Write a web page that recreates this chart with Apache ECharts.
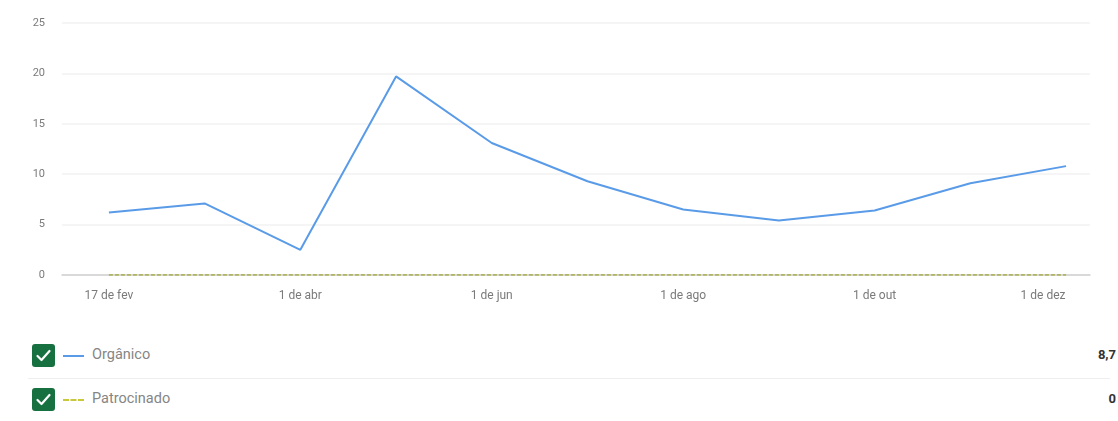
<!DOCTYPE html>
<html>
<head>
<meta charset="utf-8">
<script src="https://cdn.jsdelivr.net/npm/echarts@6/dist/echarts.min.js"></script>
<style>
  body { margin: 0; background: #fff; font-family: Roboto, "Noto Sans", sans-serif; }
  #chart { position: absolute; left: 0; top: 0; width: 1118px; height: 310px; }
  .row { position: absolute; left: 0; width: 1118px; height: 24px; }
  .box { position: absolute; left: 32px; top: 0; width: 23px; height: 23px; border-radius: 3px; background: #17703f; }
  .icon { position: absolute; left: 63px; top: 11px; width: 21px; height: 0; }
  .name { position: absolute; left: 92px; top: 2px; font-size: 14.5px; color: #858585; }
  .total { position: absolute; right: 2px; top: 3px; font-size: 13px; font-weight: bold; color: #333; }
  .sep { position: absolute; left: 28px; top: 378px; width: 1082px; height: 1px; background: #eeeeee; }
</style>
</head>
<body>
<div id="chart"></div>
<div id="legend"></div>
<script>
// monthly points, labels shown every other month
const months = ["17 de fev", "1 de mar", "1 de abr", "1 de mai", "1 de jun", "1 de jul",
  "1 de ago", "1 de set", "1 de out", "1 de nov", "1 de dez"];
const organico = [6.2, 7.1, 2.5, 19.7, 13.1, 9.3, 6.5, 5.4, 6.4, 9.1, 10.8];
const patrocinado = [0, 0, 0, 0, 0, 0, 0, 0, 0, 0, 0];
const seriesNames = ["Orgânico", "Patrocinado"];
const totals = ["8,7", "0"];
const colors = ["#5a9be8", "#a4a83a"];

const chart = echarts.init(document.getElementById("chart"));

const toPairs = arr => arr.map((v, i) => [i, v]);

chart.setOption({
  animation: false,
  textStyle: { fontFamily: "Roboto, 'Noto Sans', sans-serif" },
  grid: { left: 62, right: 28, top: 23, bottom: 35 },
  xAxis: {
    type: "value",
    min: -0.49,
    max: 10.25,
    splitLine: { show: false },
    axisTick: { show: false },
    axisLine: { show: true, lineStyle: { color: "#cfcfcf", width: 1.5 } },
    axisLabel: {
      color: "#7a7a7a",
      fontSize: 12,
      margin: 15,
      showMinLabel: false,
      showMaxLabel: false,
      formatter: v => {
        if (!Number.isInteger(v) || v % 2 !== 0 || !months[v]) return "";
        if (v === months.length - 1) return "{t|" + months[v] + "}{p|}";
        return months[v];
      },
      rich: {
        t: { color: "#7a7a7a", fontSize: 12 },
        p: { width: 46 }
      }
    }
  },
  yAxis: {
    type: "value",
    min: 0,
    max: 25,
    interval: 5,
    axisLine: { show: false },
    axisTick: { show: false },
    splitLine: { lineStyle: { color: "#f2f2f2", width: 1.5 } },
    axisLabel: { color: "#7a7a7a", fontSize: 11, margin: 17 }
  },
  series: [
    {
      name: seriesNames[0],
      type: "line",
      data: toPairs(organico),
      symbol: "none",
      lineStyle: { color: colors[0], width: 2 },
      z: 3
    },
    {
      name: seriesNames[1],
      type: "line",
      data: toPairs(patrocinado),
      symbol: "none",
      lineStyle: { color: colors[1], width: 1.5, type: [4, 2] },
      z: 4
    }
  ]
});

// legend rows under the chart
const legend = document.getElementById("legend");
const rowTops = [344, 388];
seriesNames.forEach((name, i) => {
  const row = document.createElement("div");
  row.className = "row";
  row.style.top = rowTops[i] + "px";
  const border = i === 0 ? "2px solid " + colors[0] : "2px dashed #c9c83a";
  row.innerHTML =
    '<div class="box"><svg width="23" height="23" viewBox="0 0 23 23">' +
    '<polyline points="5.5,12 9.5,16 17.5,7" fill="none" stroke="#fff" stroke-width="2.2" stroke-linecap="round" stroke-linejoin="round"/></svg></div>' +
    '<div class="icon" style="border-top:' + border + '"></div>' +
    '<div class="name">' + name + '</div>' +
    '<div class="total">' + totals[i] + '</div>';
  legend.appendChild(row);
});
const sep = document.createElement("div");
sep.className = "sep";
legend.appendChild(sep);
</script>
</body>
</html>
